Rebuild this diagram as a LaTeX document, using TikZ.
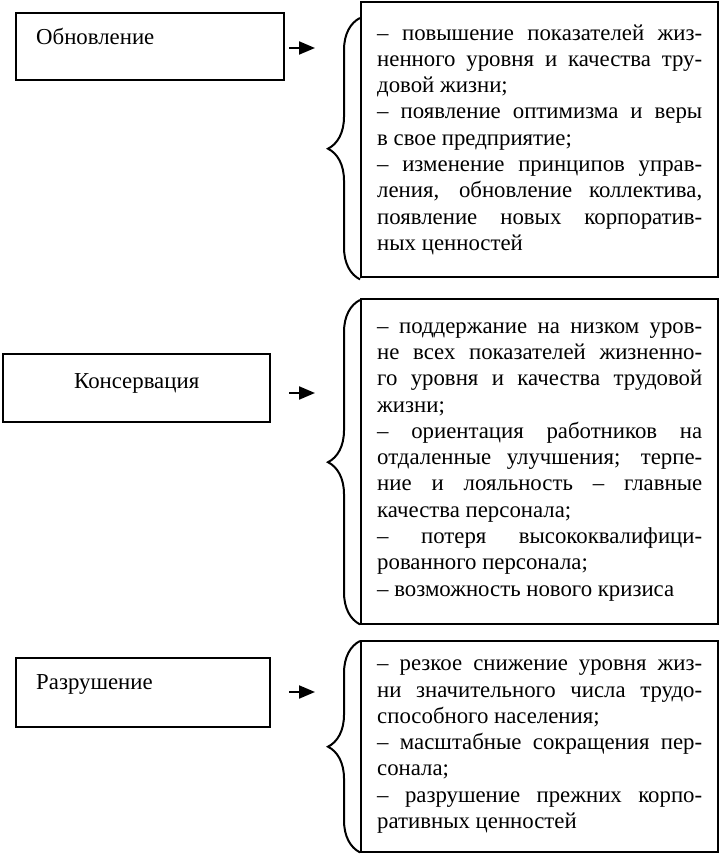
\documentclass[tikz,border=0pt]{standalone}
\usepackage{fontspec}
\setmainfont{Liberation Serif}
\usetikzlibrary{arrows.meta,decorations.pathreplacing}
\setlength\parindent{0pt}

\begin{document}
\begin{tikzpicture}[
  x=0.5pt,y=-0.5pt,
  stage/.style={draw,line width=1.2pt,rectangle,anchor=north west,inner ysep=0pt,inner xsep=10pt,font=\fontsize{11.4pt}{13.15pt}\selectfont},
  result/.style={draw,line width=1.2pt,rectangle,anchor=north west,inner xsep=8pt,text width=162.5pt,align=justify,font=\fontsize{11.4pt}{13.15pt}\selectfont},
  brc/.style={draw,line width=1pt,decorate,decoration={brace,amplitude=16pt}},
  arr/.style={draw,line width=1pt,-{Triangle[length=8pt,width=6.5pt]}},
]
  \useasboundingbox (0,0) rectangle (720,854);

  % Stages
  \node[stage,text width=114pt,align=left,text height=15.5pt,text depth=18pt] (b1) at (15,12) {Обновление};
  \node[stage,text width=113.5pt,align=center,text height=17pt,text depth=17pt] (b2) at (2,353) {Консервация};
  \node[stage,text width=107pt,align=left,text height=15.5pt,text depth=19pt] (b3) at (15,657) {Разрушение};

  % Consequences
  \node[result,minimum height=137.5pt] (r1) at (360,1) {%
    – повышение показателей жиз-\linebreak
    ненного уровня и качества тру-\linebreak
    довой жизни;\\
    – появление оптимизма и веры\linebreak
    в свое предприятие;\\
    – изменение принципов управ-\linebreak
    ления, обновление коллектива,\linebreak
    появление новых корпоратив-\linebreak
    ных ценностей};
  \node[result,minimum height=162.5pt] (r2) at (360,298) {%
    – поддержание на низком уров-\linebreak
    не всех показателей жизненно-\linebreak
    го уровня и качества трудовой\linebreak
    жизни;\\
    – ориентация работников на\linebreak
    отдаленные улучшения; терпе-\linebreak
    ние и лояльность – главные\linebreak
    качества персонала;\\
    – потеря высококвалифици-\linebreak
    рованного персонала;\\
    – возможность нового кризиса};
  \node[result,minimum height=105.5pt] (r3) at (360,640) {%
    – резкое снижение уровня жиз-\linebreak
    ни значительного числа трудо-\linebreak
    способного населения;\\
    – масштабные сокращения пер-\linebreak
    сонала;\\
    – разрушение прежних корпо-\linebreak
    ративных ценностей};

  % Braces
  \path[brc] ([yshift=-0.5pt]r1.south west) -- ([yshift=-8.5pt]r1.north west);
  \path[brc] ([yshift=0.5pt]r2.south west) -- ([yshift=-1pt]r2.north west);
  \path[brc] ([yshift=0.5pt]r3.south west) -- ([yshift=-0.5pt]r3.north west);

  % Arrows
  \coordinate (s1) at (289,48);  \coordinate (t1) at (315,48);
  \coordinate (s2) at (289,393); \coordinate (t2) at (315,393);
  \coordinate (s3) at (289,692); \coordinate (t3) at (315,692);
  \path[arr] (s1) -- (t1);
  \path[arr] (s2) -- (t2);
  \path[arr] (s3) -- (t3);
\end{tikzpicture}
\end{document}
